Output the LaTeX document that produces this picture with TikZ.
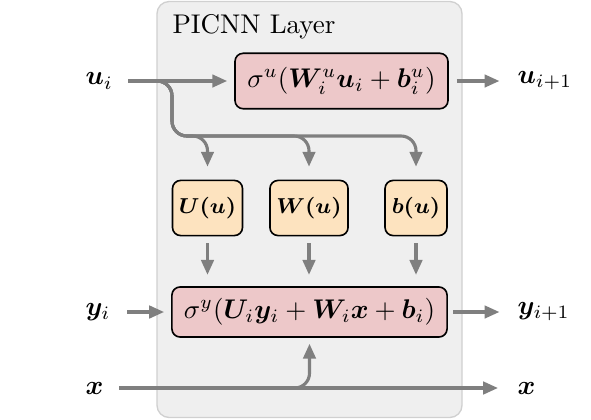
\documentclass[tikz,border=0pt]{standalone}
\usepackage{bm}
\usetikzlibrary{arrows.meta}
\definecolor{layerbg}{HTML}{EFEFEF}
\definecolor{layerbd}{HTML}{D0D0D0}
\definecolor{pinkbox}{HTML}{EDC8C9}
\definecolor{orangebox}{HTML}{FDE3BF}
\definecolor{arrgray}{HTML}{7F7F7F}
\begin{document}
\begin{tikzpicture}[x=0.37pt,y=-0.37pt,
  arr/.style={draw=arrgray,line width=1.15pt,-{Triangle[length=5.5pt,width=4.6pt]}},
  fbox/.style={draw=black,line width=0.6pt,rounded corners=3pt,inner sep=0pt,align=center},
  pinkn/.style={fbox,fill=pinkbox,minimum height=20.5pt},
  orangen/.style={fbox,fill=orangebox,minimum height=20.4pt,font=\footnotesize},
  lbl/.style={inner sep=0pt,anchor=west}]
\useasboundingbox (0,0) rectangle (591,419);
\draw[fill=layerbg,draw=layerbd,line width=0.5pt,rounded corners=4.5pt] (157,1.5) rectangle (462,417.5);
\node[anchor=base west,inner sep=0pt] (title) at (172,33) {PICNN Layer};

\node[pinkn,minimum width=78.8pt] (top) at (341.5,81) {$\sigma^u(\bm{W}_i^u\bm{u}_i+\bm{b}_i^u)$};
\node[orangen,minimum width=25.9pt] (U) at (207.5,208) {$\bm{U(u)}$};
\node[orangen,minimum width=28.9pt] (W) at (309,208) {$\bm{W(u)}$};
\node[orangen,minimum width=22.9pt] (B) at (416,208) {$\bm{b(u)}$};
\node[pinkn,minimum width=101.8pt,minimum height=18.5pt] (bot) at (309.5,312) {$\sigma^y(\bm{U}_i\bm{y}_i+\bm{W}_i\bm{x}+\bm{b}_i)$};

\node[lbl] (ui) at (85,81) {$\bm{u}_i$};
\node[lbl] (uo) at (517,81) {$\bm{u}_{i+1}$};
\node[lbl] (yi) at (85,312) {$\bm{y}_i$};
\node[lbl] (yo) at (517,312) {$\bm{y}_{i+1}$};
\node[lbl] (xi) at (85,388) {$\bm{x}$};
\node[lbl] (xo) at (517,388) {$\bm{x}$};

\coordinate (ua) at (128,81);
\coordinate (ya) at (127,312);
\coordinate (xa) at (119,388);
\coordinate (xb) at (498,388);

\draw[arr,shorten >=2.6pt] (ua) -- (top.west);
\draw[arr,shorten <=3pt,shorten >=6.5pt] (top.east) -- (top.east -| uo.west);
\draw[arr,shorten >=2.6pt] (ya) -- (bot.west);
\draw[arr,shorten <=2pt,shorten >=6.5pt] (bot.east) -- (bot.east -| yo.west);
\draw[arr] (xa) -- (xb);

\foreach \n in {U,W,B}{
  \draw[arr,rounded corners=5.5pt,shorten >=4.8pt] (ua) -| (172,136) -| (\n.north);
  \draw[arr,shorten <=2.6pt,shorten >=4.2pt] (\n.south) -- (\n.south |- bot.north);
}
\draw[arr,rounded corners=5.5pt,shorten >=2.2pt] (xa) -| (bot.south);
\end{tikzpicture}
\end{document}
